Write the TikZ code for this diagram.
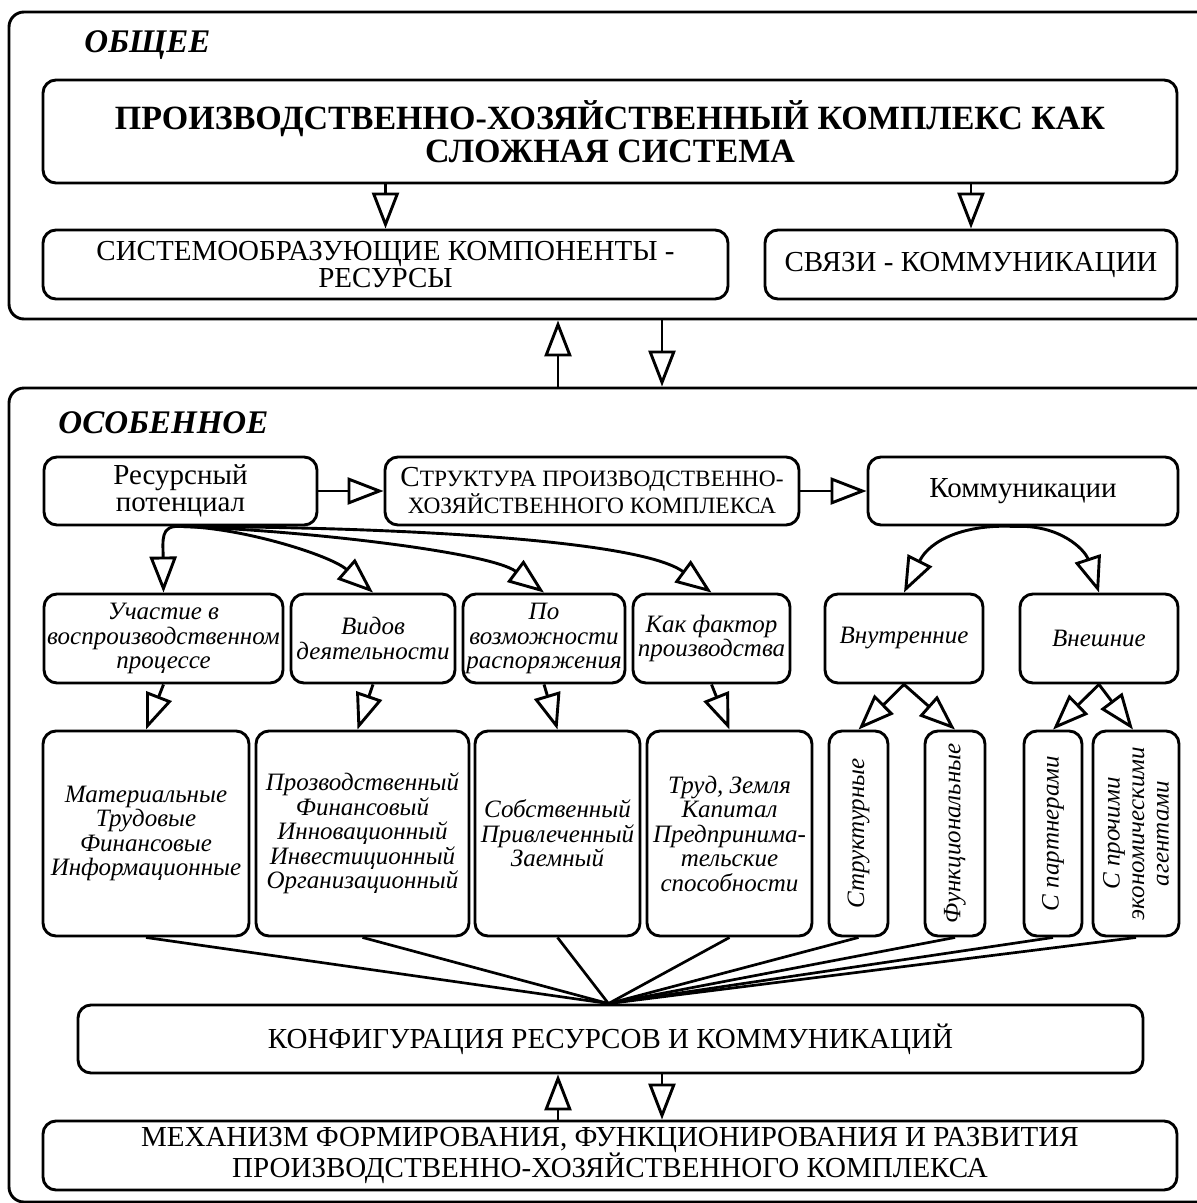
\documentclass[tikz,border=0pt]{standalone}
\usepackage{fontspec}
\setmainfont{Liberation Serif}
\usetikzlibrary{arrows.meta,calc}
\begin{document}
\begin{tikzpicture}[x=1pt,y=-1pt,line width=2.9pt,
  box/.style={draw,rounded corners=13pt,inner sep=0pt,align=center},
  frame/.style={draw,rounded corners=15pt,inner sep=0pt},
  up/.style={font=\fontsize{29}{27}\selectfont},
  hd/.style={font=\fontsize{34}{33}\selectfont\bfseries},
  ita/.style={font=\fontsize{25}{24.5}\selectfont\itshape},
  sec/.style={font=\fontsize{33}{33}\selectfont\bfseries\itshape,inner sep=0pt,anchor=base west},
  vtext/.style={ita,rotate=90,align=center,inner sep=0pt},
  arr/.style={-{Triangle[open,length=36pt,width=27pt]}},
  fan/.style={line width=2.7pt}]
\useasboundingbox (0,0) rectangle (1197,1203);
\clip (0,0) rectangle (1197,1203);

% --- upper frame: general level ---
\node[frame,minimum width=1230pt,minimum height=307pt] (general) at (624,165.5) {};
\node[sec] (genlbl) at (83,52) {ОБЩЕЕ};
\node[box,hd,minimum width=1134pt,minimum height=103pt] (title) at (610,131.5)
  {ПРОИЗВОДСТВЕННО-ХОЗЯЙСТВЕННЫЙ КОМПЛЕКС КАК\\СЛОЖНАЯ СИСТЕМА};
\node[box,up,minimum width=685pt,minimum height=69pt] (sysc) at (385.5,264.5)
  {СИСТЕМООБРАЗУЮЩИЕ КОМПОНЕНТЫ -\\РЕСУРСЫ};
\node[box,up,minimum width=412pt,minimum height=69pt] (links) at (971,264.5)
  {СВЯЗИ - КОММУНИКАЦИИ};
\draw[arr] (title.south -| sysc.north) -- (sysc.north);
\draw[arr] (title.south -| links.north) -- (links.north);

% --- lower frame: particular level ---
\node[frame,minimum width=1230pt,minimum height=814pt] (special) at (624,795) {};
\node[sec] (spclbl) at (57,433) {ОСОБЕННОЕ};

\coordinate (upx) at (558,0);
\coordinate (dnx) at (662,0);
\draw[arr] (special.north -| upx) -- (general.south -| upx);
\draw[arr] (general.south -| dnx) -- (special.north -| dnx);

% first row
\node[box,up,minimum width=273pt,minimum height=68pt] (res) at (180.5,491)
  {Ресурсный\\потенциал};
\node[box,up,minimum width=414pt,minimum height=68pt] (struct) at (592,491)
  {С{\fontsize{23.4}{27}\selectfont ТРУКТУРА ПРОИЗВОДСТВЕННО-}\\{\fontsize{23.4}{27}\selectfont ХОЗЯЙСТВЕННОГО КОМПЛЕКСА}};
\node[box,up,minimum width=310pt,minimum height=68pt] (comm) at (1023,491)
  {Коммуникации};
\draw[arr] (res) -- (struct);
\draw[arr] (struct) -- (comm);

% classification criteria
\node[box,ita,minimum width=239pt,minimum height=89pt] (u1) at (163.5,638.5)
  {Участие в\\воспроизводственном\\процессе};
\node[box,ita,minimum width=164pt,minimum height=89pt] (u2) at (373,638.5)
  {Видов\\деятельности};
\node[box,ita,minimum width=162pt,minimum height=89pt] (u3) at (544,638.5)
  {По\\возможности\\распоряжения};
\node[box,ita,minimum width=157pt,minimum height=89pt] (u4) at (711.5,638.5)
  {Как фактор\\производства};
\node[box,ita,minimum width=158pt,minimum height=89pt] (inner) at (904,638.5)
  {Внутренние};
\node[box,ita,minimum width=158pt,minimum height=89pt] (outer) at (1099,638.5)
  {Внешние};

\draw[arr] (res.south) .. controls (160,525) and (163,540) .. (u1.north);
\draw[arr] (res.south) .. controls (240,527) and (330,555) .. (u2.north);
\draw[arr] (res.south) .. controls (300,530) and (490,552) .. (u3.north);
\draw[arr] (res.south) .. controls (400,527) and (640,540) .. (u4.north);

\coordinate (cs) at ($(comm.south)+(-9,0)$);
\draw[arr] (cs) .. controls (965,524) and (930,540) .. (inner.north);
\draw[arr] (cs) .. controls (1060,524) and (1085,550) .. (outer.north);

% kinds of resources and links
\node[box,ita,minimum width=206pt,minimum height=205pt] (r1) at (146,833.5)
  {Материальные\\Трудовые\\Финансовые\\Информационные};
\node[box,ita,minimum width=213pt,minimum height=205pt] (r2) at (362.5,833.5)
  {Прозводственный\\Финансовый\\Инновационный\\Инвестиционный\\Организационный};
\node[box,ita,minimum width=165pt,minimum height=205pt] (r3) at (557.5,833.5)
  {Собственный\\Привлеченный\\Заемный};
\node[box,ita,minimum width=165pt,minimum height=205pt] (r4) at (729.5,833.5)
  {Труд, Земля\\Капитал\\Предпринима-\\тельские\\способности};
\node[box,minimum width=59pt,minimum height=205pt] (v1) at (858.5,833.5) {};
\node[box,minimum width=60pt,minimum height=205pt] (v2) at (955,833.5) {};
\node[box,minimum width=58pt,minimum height=205pt] (v3) at (1053,833.5) {};
\node[box,minimum width=86pt,minimum height=205pt] (v4) at (1136,833.5) {};
\node[vtext] (v1t) at (v1) {Структурные};
\node[vtext] (v2t) at (v2) {Функциональные};
\node[vtext] (v3t) at (v3) {С партнерами};
\node[vtext] (v4t) at (v4) {С прочими\\экономическими\\агентами};

\draw[arr] (u1.south) -- (r1.north);
\draw[arr] (u2.south) -- ($(r2.north)+(-5,0)$);
\draw[arr] (u3.south) -- (r3.north);
\draw[arr] (u4.south) -- (r4.north);
\draw[arr] (inner.south) -- (v1.north);
\draw[arr] (inner.south) -- (v2.north);
\draw[arr] (outer.south) -- (v3.north);
\draw[arr] (outer.south) -- ($(v4.north)+(-3,0)$);

% configuration and mechanism
\node[box,up,minimum width=1065pt,minimum height=68pt] (conf) at (610.5,1039)
  {КОНФИГУРАЦИЯ РЕСУРСОВ И КОММУНИКАЦИЙ};
\node[box,up,minimum width=1134pt,minimum height=69pt] (mech) at (610,1155.5)
  {МЕХАНИЗМ ФОРМИРОВАНИЯ, ФУНКЦИОНИРОВАНИЯ И РАЗВИТИЯ\\ПРОИЗВОДСТВЕННО-ХОЗЯЙСТВЕННОГО КОМПЛЕКСА};

\coordinate (hub) at ($(conf.north)+(-2,0)$);
\foreach \n in {r1,r2,r3,r4,v1,v2,v3,v4}
  \draw[fan] (\n.south) -- (hub);

\draw[arr] (mech.north -| upx) -- (conf.south -| upx);
\draw[arr] (conf.south -| dnx) -- (mech.north -| dnx);
\end{tikzpicture}
\end{document}
